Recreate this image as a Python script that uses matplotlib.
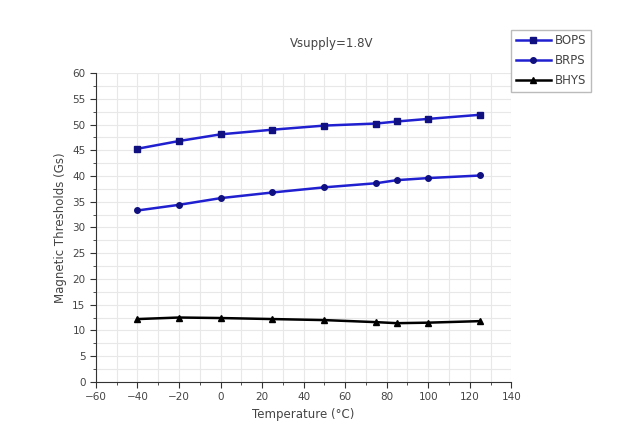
import matplotlib
matplotlib.use("Agg")
import matplotlib.pyplot as plt
from matplotlib.ticker import MultipleLocator

temps = [-40, -20, 0, 25, 50, 75, 85, 100, 125]
bops = [45.3, 46.8, 48.1, 49.0, 49.8, 50.2, 50.6, 51.1, 51.9]
brps = [33.3, 34.4, 35.7, 36.8, 37.8, 38.6, 39.2, 39.6, 40.1]
bhys = [12.2, 12.5, 12.4, 12.2, 12.0, 11.6, 11.4, 11.5, 11.8]

fig = plt.figure(figsize=(6.19, 4.30), dpi=100)
ax = fig.add_axes([0.155, 0.112, 0.671, 0.718])
txt = "#444444"
blue = "#2020d0"
ax.plot(temps, bops, color=blue, lw=1.8, marker="s", ms=4, mfc="#101080", mec="#101080", label="BOPS")
ax.plot(temps, brps, color=blue, lw=1.8, marker="o", ms=4, mfc="#101080", mec="#101080", label="BRPS")
ax.plot(temps, bhys, color="black", lw=1.8, marker="^", ms=5, label="BHYS")

ax.set_xlim(-60, 140)
ax.set_ylim(0, 60)
ax.xaxis.set_major_locator(MultipleLocator(20))
ax.xaxis.set_minor_locator(MultipleLocator(10))
ax.yaxis.set_major_locator(MultipleLocator(5))
ax.yaxis.set_minor_locator(MultipleLocator(2.5))
ax.grid(True, which="both", color="#e8e8e8", lw=0.8)
ax.set_axisbelow(True)
for s in ["top", "right"]:
    ax.spines[s].set_visible(False)
for s in ["left", "bottom"]:
    ax.spines[s].set_color("#333333")
ax.tick_params(which="both", direction="out", colors="#333333", labelcolor=txt, labelsize=7.5)
ax.tick_params(which="major", length=4)
ax.tick_params(which="minor", length=2)
ax.set_xlabel("Temperature (°C)", color=txt, fontsize=8.5)
ax.set_ylabel("Magnetic Thresholds (Gs)", color=txt, fontsize=8.5)
fig.text(0.535, 0.90, "Vsupply=1.8V", ha="center", va="center", color=txt, fontsize=8.5)
leg = ax.legend(loc="upper left", bbox_to_anchor=(0.985, 1.16), fontsize=8.5, frameon=True,
                fancybox=False, edgecolor="#aaaaaa", handlelength=3, labelspacing=0.6,
                borderpad=0.4, handletextpad=0.3)
for t in leg.get_texts():
    t.set_color(txt)
fig.savefig("out.png", dpi=100)
